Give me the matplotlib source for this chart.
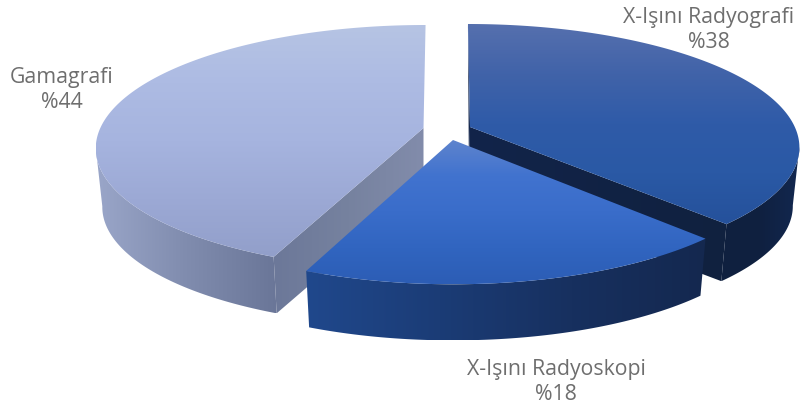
import numpy as np
import matplotlib
matplotlib.use("Agg")
import matplotlib.pyplot as plt
from matplotlib.colors import LinearSegmentedColormap as LSC
from matplotlib.patches import Polygon

labels = ["X-Işını Radyografi", "X-Işını Radyoskopi", "Gamagrafi"]
values = [38, 18, 44]
value_labels = ["%38", "%18", "%44"]

# layout: apex of each exploded slice (px), lean of the radial edges, per-slice scale
apex = {0: (470, 128), 1: (453, 141), 2: (423.5, 129)}
lean = {0: 0.02, 1: 0.0, 2: -0.02}
scale = {0: (1.0, 1.0), 1: (0.992, 1.016), 2: (0.995, 1.0)}
RX, RY, CY = 329, 122.5, 19.5
DEPTH, TAPER = 59, 0.98
WARP = 7.5
label_pos = {0: (709, 30), 1: (556, 382), 2: (62, 90)}

top_grad = {0: ["#5670ae", "#4163a9", "#2f5ba8", "#2a59a5", "#25519b"],
            1: ["#5f84cd", "#4173cf", "#3a6dca", "#3165c0", "#2c5db5"],
            2: ["#b6c4e4", "#adbbe3", "#a6b4df", "#9ca9d5", "#929fca"]}
rim_grad = {0: ["#10213f", "#0f2040", "#132850"],
            1: ["#20488c", "#1b3c76", "#17305f", "#14284f"],
            2: ["#9aa6c9", "#808cae", "#6a7698"]}
wall_grad = {0: ["#12244a", "#10213f"], 2: ["#6c7899", "#76829f", "#828cab"]}

fig = plt.figure(figsize=(8.01, 4.14), dpi=100)
ax = fig.add_axes([0, 0, 1, 1])
ax.set_axis_off()


def rim(t_deg, i):
    """Projected point(s) on the top rim relative to the axes, for pie angle t."""
    t = np.radians(t_deg)
    phi = t + np.radians(WARP) * np.sin(2 * t)
    dx, dy = RX * np.sin(phi), CY - RY * np.cos(phi)
    sx, sy = scale[i]
    return apex[i][0] + sx * dx + lean[i] * dy, apex[i][1] + sy * dy


def lower(x, y, i):
    return apex[i][0] + (x - apex[i][0]) * TAPER, apex[i][1] + (y - apex[i][1]) * TAPER + DEPTH


def fill(poly, colors, horizontal, zorder):
    poly = np.asarray(poly)
    x0, x1, y0, y1 = poly[:, 0].min(), poly[:, 0].max(), poly[:, 1].min(), poly[:, 1].max()
    cmap = LSC.from_list("g", colors)
    grad = np.linspace(0, 1, 256)
    grad = grad[None, :] if horizontal else grad[:, None]
    im = ax.imshow(grad, cmap=cmap, extent=(x0, x1, y1, y0), aspect="auto",
                   origin="upper", zorder=zorder, interpolation="bilinear")
    patch = Polygon(poly, closed=True, transform=ax.transData, fc="none", ec="none")
    ax.add_patch(patch)
    im.set_clip_path(patch)


fractions = np.cumsum([0] + values) / sum(values) * 360
order = [2, 0, 1]
for z, i in enumerate(order):
    a0, a1 = fractions[i], fractions[i + 1]
    ts = np.linspace(a0, a1, 400)
    xs, ys = rim(ts, i)
    lx, ly = lower(xs, ys, i)
    ax_, ay_ = apex[i]
    base = 10 * (z + 1)
    # outer side, only the part that faces the viewer
    vis = (ts >= 90) & (ts <= 270)
    if vis.any():
        px = np.r_[xs[vis], lx[vis][::-1]]
        py = np.r_[ys[vis], ly[vis][::-1]]
        fill(np.c_[px, py], rim_grad[i], True, base)
    # cut side
    if i == 0:
        wall = [(ax_, ay_), (xs[-1], ys[-1]), (lx[-1], ly[-1]), (ax_ - 1, ay_ + DEPTH)]
        fill(wall, wall_grad[0], True, base + 1)
        ax.add_patch(Polygon([(xs[0], ys[0]), (ax_, ay_), (ax_ - 1, ay_ + DEPTH)],
                             closed=True, fc="#12244a", ec="none", zorder=base + 1))
    if i == 2:
        wall = [(ax_, ay_), (xs[0], ys[0]), (lx[0], ly[0]), (ax_, ay_ + DEPTH)]
        fill(wall, wall_grad[2], True, base + 1)
    # top face
    fill(np.c_[np.r_[ax_, xs], np.r_[ay_, ys]], top_grad[i], False, base + 2)

for i, lab in enumerate(labels):
    x, y = label_pos[i]
    ax.text(x, y, f"{lab}\n{value_labels[i]}", ha="center", va="center", color="#6e6e6e",
            fontsize=15.3, family="Open Sans", linespacing=1.22, zorder=100)

ax.set_xlim(0, 801)
ax.set_ylim(414, 0)
fig.savefig("out.png", dpi=100, facecolor="white")
